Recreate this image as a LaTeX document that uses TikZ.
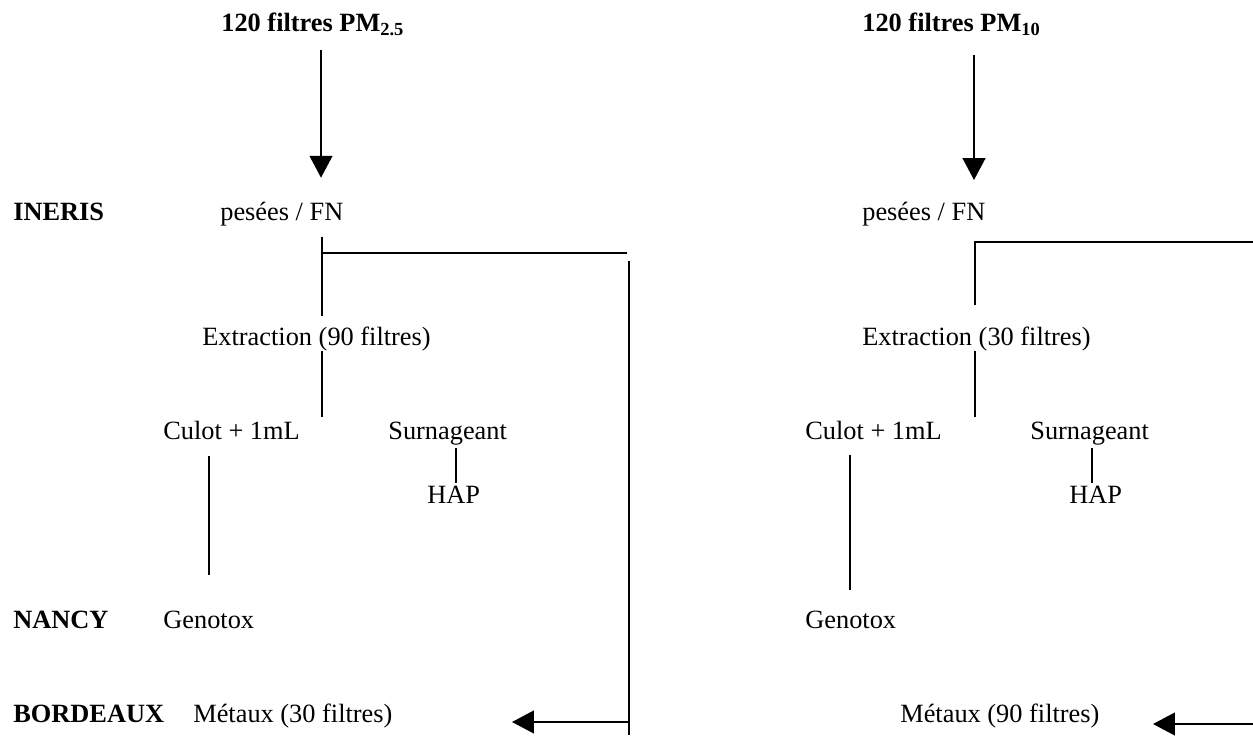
\documentclass[tikz,border=0pt]{standalone}
\usepackage{fontspec}
\setmainfont{Liberation Serif}
\usetikzlibrary{arrows.meta}
\begin{document}
\begin{tikzpicture}[x=0.02cm,y=-0.02cm,
  every node/.style={font=\fontsize{15}{18}\selectfont,inner sep=0pt,anchor=base west},
  lab/.style={font=\fontsize{15}{18}\selectfont\bfseries},
  ln/.style={line width=1pt},
  arr/.style={ln,-{Triangle[width=13pt,length=12.5pt]}}]
\useasboundingbox (0,0) rectangle (1253,736);
% sites
\node[lab] (ineris) at (13,221) {INERIS};
\node[lab] (nancy) at (13,628) {NANCY};
\node[lab] (bordeaux) at (13,722) {BORDEAUX};
% PM2.5
\node[lab] (titreA) at (221,32) {120 filtres PM\textsubscript{2.5}};
\node (peseeA) at (220,221) {pesées / FN};
\node (extrA) at (202,345) {Extraction (90 filtres)};
\node (culotA) at (163,439) {Culot + 1mL};
\node (surnA) at (388,439) {Surnageant};
\node (hapA) at (427,503) {HAP};
\node (genoA) at (163,628) {Genotox};
\node (metA) at (193,722) {Métaux (30 filtres)};
\coordinate (flecheA) at (321,0);
\coordinate (colA) at (322,0);
\coordinate (colC) at (209,0);
\coordinate (colH) at (456,0);
\coordinate (coudeA) at (322,253);
\coordinate (coinA) at (627,253);
\coordinate (descA) at (629,261);
\coordinate (basA) at (629,735);
\coordinate (pointeA) at (512,722);
\draw[arr,shorten <=8pt,shorten >=14pt] (titreA.south -| flecheA) -- (peseeA.north -| flecheA);
\draw[ln,shorten <=5.5pt,shorten >=5.5pt] (peseeA.south -| colA) -- (extrA.north -| colA);
\draw[ln] (coudeA) -- (coinA);
\draw[ln] (descA) -- (basA);
\draw[arr] (descA |- metA.base) -- (pointeA);
\draw[ln,shorten >=2pt] (extrA.south -| colA) -- (culotA.north -| colA);
\draw[ln,shorten <=9.5pt,shorten >=20pt] (culotA.south -| colC) -- (genoA.north -| colC);
\draw[ln,shorten <=1.7pt,shorten >=1.4pt] (surnA.south -| colH) -- (hapA.north -| colH);
% PM10
\node[lab] (titreB) at (862,32) {120 filtres PM\textsubscript{10}};
\node (peseeB) at (862,221) {pesées / FN};
\node (extrB) at (862,345) {Extraction (30 filtres)};
\node (culotB) at (805,439) {Culot + 1mL};
\node (surnB) at (1030,439) {Surnageant};
\node (hapB) at (1069,503) {HAP};
\node (genoB) at (805,628) {Genotox};
\node (metB) at (900,722) {Métaux (90 filtres)};
\coordinate (flecheB) at (974,0);
\coordinate (colB) at (975,0);
\coordinate (colD) at (850,0);
\coordinate (colK) at (1092,0);
\coordinate (bordB) at (1253,242);
\coordinate (bordBas) at (1253,724);
\coordinate (pointeB) at (1153,724);
\draw[arr,shorten <=10.8pt,shorten >=12.7pt] (titreB.south -| flecheB) -- (peseeB.north -| flecheB);
\draw[ln,shorten <=12pt] (extrB.north -| colB) |- (bordB);
\draw[ln,shorten >=2pt] (extrB.south -| colB) -- (culotB.north -| colB);
\draw[ln,shorten <=8.5pt,shorten >=11.3pt] (culotB.south -| colD) -- (genoB.north -| colD);
\draw[ln,shorten <=1.7pt,shorten >=1.4pt] (surnB.south -| colK) -- (hapB.north -| colK);
\draw[arr] (bordBas) -- (pointeB);
\end{tikzpicture}
\end{document}
